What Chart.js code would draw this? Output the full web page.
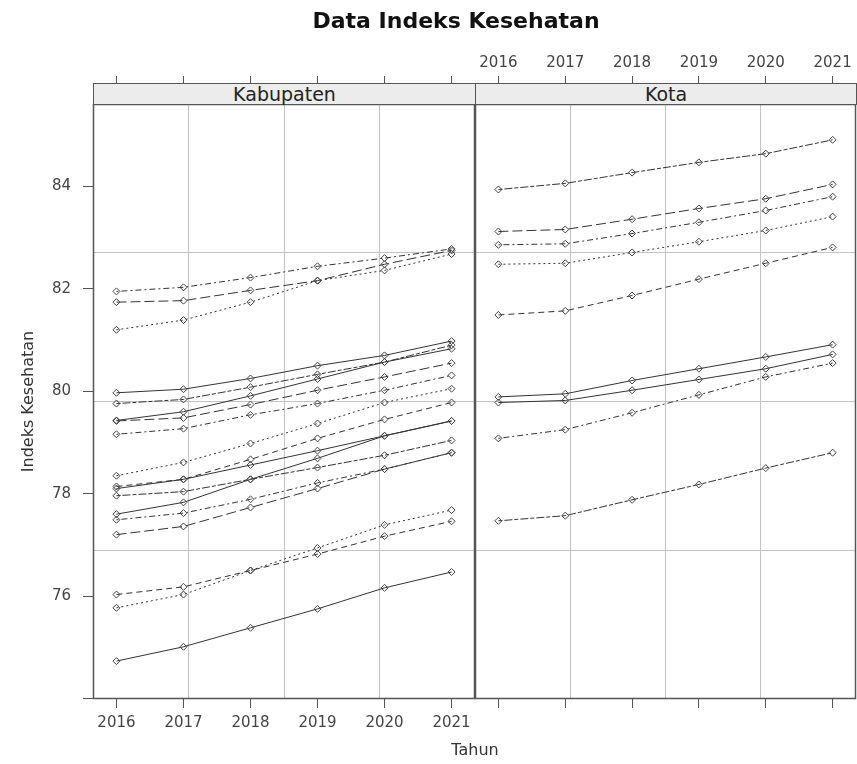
<!DOCTYPE html>
<html>
<head>
<meta charset="utf-8">
<script src="https://cdn.jsdelivr.net/npm/chart.js@4.4.0/dist/chart.umd.min.js"></script>
<style>
  body { margin: 0; background: #fff; }
  #wrap { position: relative; width: 857px; height: 764px; overflow: hidden; font-family: "DejaVu Sans", sans-serif; }
  canvas { position: absolute; top: 0; }
  #kab { left: 0; }
  #kota { left: 475px; }
  .strip { position: absolute; top: 83px; height: 22px; box-sizing: border-box; background: #ececec;
           border: 1px solid #555; text-align: center; font-size: 19px; line-height: 21px; color: #222; }
  #title { position: absolute; top: 10px; left: 456px; transform: translateX(-50%); white-space: nowrap;
           font-size: 22px; line-height: 22px; font-weight: bold; color: #111; }
  #xlab { position: absolute; top: 742px; left: 475px; transform: translateX(-50%);
          font-size: 16px; line-height: 16px; color: #333; }
</style>
</head>
<body>
<div id="wrap">
  <canvas id="kab" width="476" height="764"></canvas>
  <canvas id="kota" width="382" height="764"></canvas>
  <div class="strip" style="left:93px;width:383px;">Kabupaten</div>
  <div class="strip" style="left:475px;width:382px;">Kota</div>
  <div id="title">Data Indeks Kesehatan</div>
  <div id="xlab">Tahun</div>
</div>
<script>
const years = [2016, 2017, 2018, 2019, 2020, 2021];
const yTickValues = [74, 76, 78, 80, 82, 84];

// Kabupaten, 2016..2021
const kab01 = [81.95, 82.03, 82.22, 82.44, 82.60, 82.78];
const kab02 = [81.74, 81.77, 81.97, 82.16, 82.48, 82.75];
const kab03 = [81.20, 81.39, 81.74, 82.16, 82.36, 82.68];
const kab04 = [79.97, 80.04, 80.25, 80.50, 80.70, 80.98];
const kab05 = [79.76, 79.84, 80.08, 80.33, 80.57, 80.90];
const kab06 = [79.43, 79.60, 79.91, 80.24, 80.57, 80.83];
const kab07 = [79.42, 79.48, 79.74, 80.02, 80.28, 80.55];
const kab08 = [79.16, 79.27, 79.54, 79.76, 80.02, 80.31];
const kab09 = [78.35, 78.61, 78.98, 79.37, 79.78, 80.05];
const kab10 = [78.14, 78.28, 78.67, 79.08, 79.45, 79.78];
const kab11 = [78.10, 78.28, 78.56, 78.84, 79.13, 79.42];
const kab12 = [77.96, 78.04, 78.28, 78.51, 78.75, 79.04];
const kab13 = [77.60, 77.83, 78.28, 78.69, 79.13, 79.42];
const kab14 = [77.49, 77.62, 77.89, 78.21, 78.48, 78.80];
const kab15 = [77.20, 77.36, 77.73, 78.10, 78.48, 78.80];
const kab16 = [76.03, 76.18, 76.50, 76.82, 77.17, 77.46];
const kab17 = [75.77, 76.03, 76.50, 76.94, 77.39, 77.68];
const kab18 = [74.73, 75.01, 75.38, 75.75, 76.16, 76.47];

// Kota, 2016..2021
const kota01 = [83.94, 84.06, 84.27, 84.47, 84.64, 84.91];
const kota02 = [83.12, 83.16, 83.36, 83.57, 83.76, 84.04];
const kota03 = [82.86, 82.88, 83.08, 83.30, 83.53, 83.80];
const kota04 = [82.48, 82.50, 82.71, 82.92, 83.14, 83.41];
const kota05 = [81.49, 81.57, 81.87, 82.19, 82.50, 82.81];
const kota06 = [79.89, 79.95, 80.21, 80.44, 80.67, 80.91];
const kota07 = [79.78, 79.82, 80.02, 80.23, 80.44, 80.72];
const kota08 = [79.08, 79.25, 79.58, 79.93, 80.28, 80.55];
const kota09 = [77.47, 77.57, 77.88, 78.18, 78.50, 78.80];

const kabupatenSeries = [kab01, kab02, kab03, kab04, kab05, kab06, kab07, kab08, kab09,
                         kab10, kab11, kab12, kab13, kab14, kab15, kab16, kab17, kab18];
const kotaSeries = [kota01, kota02, kota03, kota04, kota05, kota06, kota07, kota08, kota09];

// line types, R style
const DASH = { solid: [], dashed: [6, 4], dotted: [2, 3], dotdash: [2, 3, 6, 3], longdash: [10, 4], twodash: [4, 2, 8, 2] };
const kabLty = ['dotdash', 'longdash', 'dotted', 'solid', 'twodash', 'solid', 'longdash', 'dotdash', 'dotted',
                'dashed', 'solid', 'twodash', 'solid', 'dotdash', 'longdash', 'dashed', 'dotted', 'solid'];
const kotaLty = ['twodash', 'longdash', 'dotdash', 'dotted', 'dashed', 'solid', 'solid', 'dotdash', 'twodash'];

// lattice pads the data range a bit
const X_MIN = 2015.65, X_MAX = 2021.35;
const Y_MIN = 73.99, Y_MAX = 85.61;

Chart.defaults.font.family = '"DejaVu Sans", sans-serif';

function toDatasets(list, lty) {
  return list.map((vals, i) => ({
    data: vals.map((v, j) => ({ x: years[j], y: v })),
    borderColor: '#333',
    borderWidth: 1,
    borderDash: DASH[lty[i]],
    tension: 0,
    pointStyle: 'rectRot',
    pointRadius: 3.5,
    pointBorderWidth: 1,
    pointBorderColor: '#444',
    pointBackgroundColor: 'rgba(255,255,255,0)',
    xAxisID: 'x',
    yAxisID: 'y'
  }));
}

function quarters(min, max) {
  return [1, 2, 3].map(k => ({ value: min + k * (max - min) / 4 }));
}

const panelFrame = {
  id: 'panelFrame',
  afterDraw(chart) {
    const { ctx, chartArea: a } = chart;
    ctx.save();
    ctx.strokeStyle = '#555';
    ctx.lineWidth = 1.5;
    ctx.strokeRect(a.left + 0.5, a.top + 0.5, a.right - a.left - 1, a.bottom - a.top - 1);
    ctx.restore();
  }
};

// fixed box sizes so both panels line up with the strips
function fixX(h) {
  return s => { s.height = h; s.paddingLeft = 0; s.paddingRight = 0; };
}
function fixY(w) {
  return s => { s.width = w; s.paddingTop = 0; s.paddingBottom = 0; };
}

function panelOptions(isLeft) {
  const tickFont = { size: 15 };
  return {
    responsive: false,
    animation: false,
    devicePixelRatio: 1,
    layout: { autoPadding: false, padding: { left: 0, right: 1, top: 0, bottom: 0 } },
    plugins: { legend: { display: false }, title: { display: false }, tooltip: { enabled: false } },
    scales: {
      x: {
        type: 'linear', axis: 'x', position: 'bottom', min: X_MIN, max: X_MAX,
        afterBuildTicks: s => { s.ticks = years.map(v => ({ value: v })); },
        afterFit: fixX(65),
        ticks: { display: isLeft, font: tickFont, color: '#444', padding: 6, maxRotation: 0, callback: v => String(v) },
        grid: { drawOnChartArea: false, tickLength: 9, tickColor: '#555' },
        border: { display: false }
      },
      xTop: {
        type: 'linear', axis: 'x', position: 'top', min: X_MIN, max: X_MAX,
        afterBuildTicks: s => { s.ticks = years.map(v => ({ value: v })); },
        afterFit: fixX(104),
        ticks: { display: !isLeft, font: tickFont, color: '#444', padding: 4, maxRotation: 0, callback: v => String(v) },
        grid: { drawOnChartArea: false, tickLength: 28, tickColor: '#555', tickBorderDash: [7, 60] },
        border: { display: false }
      },
      y: {
        type: 'linear', axis: 'y', position: 'left', display: isLeft, min: Y_MIN, max: Y_MAX,
        afterBuildTicks: s => { s.ticks = yTickValues.map(v => ({ value: v })); },
        afterFit: fixY(isLeft ? 93 : 0),
        ticks: { font: tickFont, color: '#444', padding: 12, callback: v => (v === 74 ? '' : String(v)) },
        grid: { drawOnChartArea: false, tickLength: 10, tickColor: '#555' },
        border: { display: false },
        title: { display: true, text: 'Indeks Kesehatan', font: { size: 16 }, color: '#333', padding: { top: 19, bottom: 0 } }
      },
      gx: {
        type: 'linear', axis: 'x', position: 'bottom', min: X_MIN, max: X_MAX,
        afterBuildTicks: s => { s.ticks = quarters(X_MIN, X_MAX); },
        afterFit: fixX(0),
        ticks: { display: false },
        grid: { drawTicks: false, color: '#c4c4c4', lineWidth: 1 },
        border: { display: false }
      },
      gy: {
        type: 'linear', axis: 'y', position: 'left', min: Y_MIN, max: Y_MAX,
        afterBuildTicks: s => { s.ticks = quarters(Y_MIN, Y_MAX); },
        afterFit: fixY(0),
        ticks: { display: false },
        grid: { drawTicks: false, color: '#c4c4c4', lineWidth: 1 },
        border: { display: false }
      }
    }
  };
}

new Chart('kab', {
  type: 'line',
  data: { datasets: toDatasets(kabupatenSeries, kabLty) },
  options: panelOptions(true),
  plugins: [panelFrame]
});

new Chart('kota', {
  type: 'line',
  data: { datasets: toDatasets(kotaSeries, kotaLty) },
  options: panelOptions(false),
  plugins: [panelFrame]
});
</script>
</body>
</html>
